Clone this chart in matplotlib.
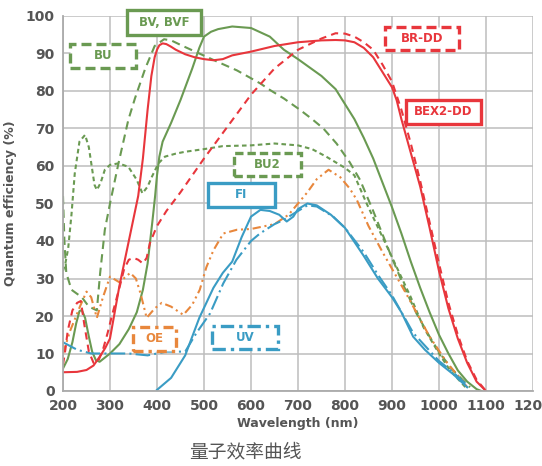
import matplotlib
matplotlib.use("Agg")
import matplotlib.pyplot as plt
from matplotlib.patches import Rectangle

# ---- data (wavelength nm, QE %) ----
bex2_x = [200, 230, 250, 265, 280, 290, 300, 310, 320, 340, 360, 370, 380, 388, 395, 400, 405, 412, 420, 430, 440, 460, 480, 500, 520, 540, 560, 600, 650, 700, 750, 780, 800, 820, 840, 860, 880, 900, 910, 920, 940, 960, 980, 1000, 1020, 1040, 1060, 1080, 1100]
bex2_y = [5, 5.1, 5.6, 6.8, 9.5, 11.5, 14, 21, 28, 40, 52, 62, 75, 84, 89, 91, 92.2, 92.7, 92.5, 91.8, 91, 89.8, 89, 88.5, 88.2, 88.5, 89.5, 90.5, 92, 93, 93.5, 93.6, 93.5, 93, 91.5, 89, 85, 81, 77.5, 72.5, 63.5, 54.5, 43.5, 32, 22, 14, 7.5, 2.5, 0]

brdd_x = [200, 205, 210, 220, 230, 238, 245, 255, 265, 275, 285, 295, 305, 320, 330, 340, 350, 360, 370, 378, 385, 400, 420, 450, 500, 550, 600, 650, 700, 750, 780, 800, 820, 840, 860, 880, 900, 920, 940, 960, 980, 1000, 1020, 1040, 1060, 1080, 1100]
brdd_y = [7, 11, 16, 21.5, 23.5, 24, 18, 10.5, 7.5, 8, 11, 15.5, 20.5, 27.5, 32.5, 35, 35.5, 35, 34, 35.5, 39.5, 44, 48, 53, 62, 70.5, 79, 86, 91, 94, 95.4, 95.3, 94.5, 93, 91, 87, 82.5, 75, 66, 56, 45, 34, 23.5, 15, 8, 3, 0]

bv_x = [200, 210, 220, 228, 235, 240, 247, 255, 262, 270, 278, 290, 300, 320, 340, 357, 370, 380, 390, 396, 400, 405, 412, 430, 450, 475, 490, 500, 515, 530, 560, 600, 640, 670, 700, 750, 780, 800, 820, 840, 860, 880, 900, 920, 940, 960, 980, 1000, 1020, 1040, 1060, 1080, 1090]
bv_y = [6, 8.5, 13, 18, 21.3, 21.6, 19.5, 14.5, 10.5, 8.2, 7.8, 9, 10, 12.5, 16.5, 21, 27, 34, 45, 52, 57.5, 62.5, 66.5, 71.5, 77.6, 86, 91.5, 94.5, 95.8, 96.5, 97.2, 96.8, 94.5, 91, 88.5, 84, 80.5, 76.5, 72.5, 67.5, 62, 55.5, 49, 42, 34.5, 27.5, 21, 15, 10, 5.5, 2.5, 0.5, 0]

bu_x = [200, 203, 207, 218, 240, 255, 272, 279, 289, 300, 318, 339, 353, 375, 395, 415, 430, 455, 490, 525, 570, 620, 640, 670, 704, 730, 754, 782, 810, 832, 860, 896, 925, 952, 980, 1002, 1030, 1066]
bu_y = [52, 40, 31.5, 27, 25, 22.5, 21.5, 31.4, 43, 50, 60.7, 72.3, 78, 86, 92, 93.8, 93.5, 92, 90, 88, 85.5, 82, 80.3, 78, 75, 72.5, 70, 66, 61, 56.3, 48, 36.7, 28, 20.7, 14.5, 10, 5.5, 1]

bu2_x = [200, 205, 211, 218, 225, 235, 247, 255, 261, 267, 272, 280, 289, 300, 318, 339, 357, 369, 380, 389, 403, 417, 440, 460, 500, 540, 600, 650, 700, 730, 760, 780, 800, 820, 846, 880, 910, 940, 967, 1000, 1023, 1060]
bu2_y = [32, 34, 38, 47, 58, 66.5, 68.3, 65, 60, 55, 53.6, 55.5, 59, 60.3, 60.7, 59.8, 56.3, 52.7, 54.5, 57.1, 60.7, 62.5, 63.3, 63.8, 64.5, 65.3, 65.5, 66, 65.5, 64.5, 62.5, 61, 59.5, 57.5, 50, 41, 33, 25, 17, 10, 5.6, 0.5]

oe_x = [200, 215, 236, 250, 260, 272, 285, 300, 320, 343, 355, 365, 378, 395, 410, 430, 456, 475, 491, 505, 520, 541, 570, 600, 650, 680, 700, 720, 740, 765, 790, 810, 825, 850, 880, 930, 980, 1020, 1045, 1060]
oe_y = [10, 16, 22.5, 26.5, 25, 19.5, 25, 30.5, 29, 31.5, 30, 26, 19.5, 22, 23.5, 22.5, 20.3, 23, 27, 33, 37.5, 42, 43, 43.2, 44.5, 47, 50, 53, 56.5, 59, 57, 54, 51, 44, 37, 26, 14.5, 7, 3.5, 1]

fi_x = [400, 430, 460, 490, 520, 540, 560, 580, 600, 620, 640, 660, 676, 690, 700, 720, 740, 770, 800, 840, 870, 900, 920, 945, 970, 1000, 1030, 1060]
fi_y = [0.3, 3.5, 9.5, 19.5, 27.5, 31.5, 34.5, 41, 46.5, 48.3, 48, 47, 45.2, 46.5, 48.5, 50, 49.5, 47, 43.5, 36, 30, 25, 21, 14.5, 11, 7.5, 4.5, 1]

uv_x = [200, 230, 260, 300, 340, 380, 420, 460, 484, 513, 541, 569, 600, 619, 650, 669, 700, 720, 740, 775, 800, 840, 870, 900, 945, 1000, 1030, 1060]
uv_y = [13, 11, 10, 10, 10, 9.5, 10.5, 10.5, 15.5, 20.7, 28.7, 35, 40, 42, 44.5, 45.6, 48, 49.5, 49.2, 46.5, 43.5, 37, 31, 25.5, 15.5, 8, 5, 1.5]

x_ticks = [200, 300, 400, 500, 600, 700, 800, 900, 1000, 1100, 1200]
y_ticks = [0, 10, 20, 30, 40, 50, 60, 70, 80, 90, 100]

GREEN = "#6a9a52"
RED = "#e8363c"
BLUE = "#3a9cc4"
ORANGE = "#e8873c"

fig = plt.figure(figsize=(5.42, 4.66), dpi=100)
ax = fig.add_axes([63/542, 1 - 391/466, 470/542, 375/466])

lw = 1.5
kw = dict(lw=lw, solid_joinstyle="round", dash_joinstyle="round")
ax.plot(bu2_x, bu2_y, color=GREEN, dashes=(2.2, 1.6), **kw)
ax.plot(bu_x, bu_y, color=GREEN, dashes=(4, 2.5), **kw)
ax.plot(bv_x, bv_y, color=GREEN, **kw)
ax.plot(oe_x, oe_y, color=ORANGE, dashes=(4, 1.8, 1, 1.8, 1, 1.8), **kw)
ax.plot(uv_x, uv_y, color=BLUE, dashes=(7, 2, 1, 2), **kw)
ax.plot(fi_x, fi_y, color=BLUE, **kw)
ax.plot(brdd_x, brdd_y, color=RED, dashes=(3.5, 2.5), **kw)
ax.plot(bex2_x, bex2_y, color=RED, **kw)

ax.set_xlim(200, 1200)
ax.set_ylim(0, 100)
ax.set_xticks(x_ticks)
ax.set_yticks(y_ticks)
ax.grid(True, color="#bdbdbd", lw=1.1)
ax.set_axisbelow(True)
for s in ["top", "right"]:
    ax.spines[s].set_visible(False)
for s in ["left", "bottom"]:
    ax.spines[s].set_color("#aaaaaa")
    ax.spines[s].set_linewidth(1.3)
ax.tick_params(length=0, pad=6, labelsize=10, labelcolor="#555555")
for lab in ax.get_xticklabels() + ax.get_yticklabels():
    lab.set_fontweight("bold")
ax.set_xlabel("Wavelength (nm)", fontsize=9, fontweight="bold", color="#555555", labelpad=3)
ax.set_ylabel("Quantum efficiency (%)", fontsize=9, fontweight="bold", color="#555555", labelpad=6)

def px2d(px, py):
    return 200 + (px - 63) * 100 / 47, (391 - py) / 3.75

def label_box(text, x0, y0, x1, y1, color, ls):
    (dx0, dy0) = px2d(x0, y1)
    (dx1, dy1) = px2d(x1, y0)
    r = Rectangle((dx0, dy0), dx1 - dx0, dy1 - dy0, fill=True, facecolor="white",
                  edgecolor=color, lw=2.4, clip_on=False, zorder=5)
    if ls is not None:
        r.set_linestyle(ls)
    ax.add_patch(r)
    ax.text((dx0 + dx1) / 2, (dy0 + dy1) / 2, text, color=color, fontsize=8.5,
            fontweight="bold", ha="center", va="center", zorder=6, clip_on=False)

label_box("BV, BVF", 127, 10, 201, 35, GREEN, None)
label_box("BU", 70, 44, 136, 68, GREEN, (0, (3, 1.5)))
label_box("BR-DD", 385, 27, 459, 50, RED, (0, (3, 1.5)))
label_box("BEX2-DD", 406, 100, 481, 124, RED, None)
label_box("BU2", 234, 153, 301, 176, GREEN, (0, (2.5, 1.2)))
label_box("FI", 208, 183, 275, 207, BLUE, None)
label_box("OE", 133, 327, 176, 351, ORANGE, (0, (3, 1.5, 1, 1.5)))
label_box("UV", 212, 326, 278, 349, BLUE, (0, (4, 1.5, 1, 1.5)))

fig.text(245/542, 1 - 452/466, "量子效率曲线", fontsize=13.5, color="#555555",
         ha="center", va="center", family=["Noto Sans CJK SC", "DejaVu Sans"], fontweight="light")

fig.savefig("out.png", dpi=100)
